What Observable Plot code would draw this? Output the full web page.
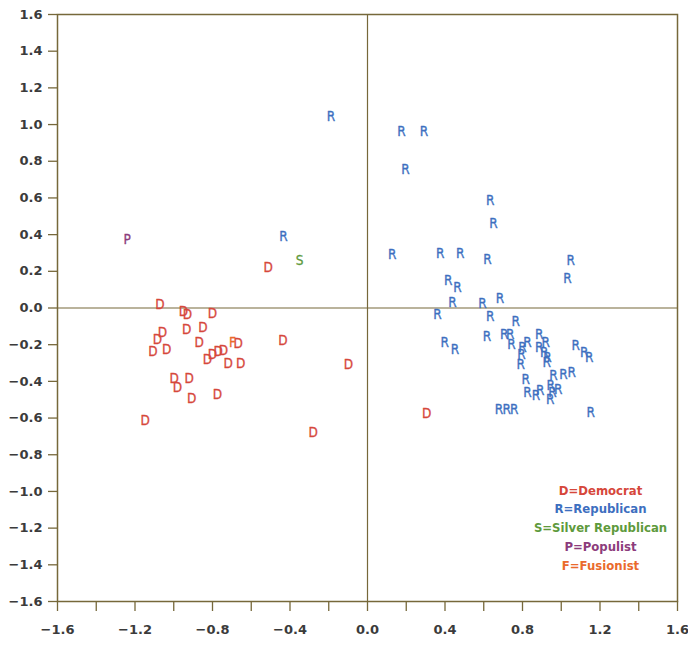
<!DOCTYPE html>
<html>
<head>
<meta charset="utf-8">
<script src="https://cdn.jsdelivr.net/npm/d3@7"></script>
<script src="https://cdn.jsdelivr.net/npm/@observablehq/plot@0.6"></script>
<style>
  html, body { margin: 0; padding: 0; background: #fff; }
  #chart svg { display: block; }
</style>
</head>
<body>
<div id="chart"></div>
<script>
// Party letters, legend labels and colours
const parties = ["D", "R", "S", "P", "F"];
const legendLabels = ["D=Democrat", "R=Republican", "S=Silver Republican", "P=Populist", "F=Fusionist"];
const partyColors = ["#d6473b", "#3d6fbf", "#5e9a3c", "#8c3c7c", "#ea6a2c"];

// Coordinates (dimension 1 = x, dimension 2 = y)
const demX = [-1.072, -0.95, -0.929, -0.8, -1.058, -1.084, -1.107, -1.036, -0.933, -0.849, -0.869, -0.826, -0.8, -0.771, -0.743, -0.668, -0.719, -0.654, -0.998, -0.981, -0.921, -0.907, -0.774, -1.148, -0.436, -0.098, -0.281, -0.513, 0.305];
const demY = [0.02, -0.02, -0.035, -0.031, -0.135, -0.171, -0.238, -0.229, -0.116, -0.107, -0.189, -0.28, -0.253, -0.24, -0.231, -0.195, -0.304, -0.304, -0.384, -0.435, -0.384, -0.495, -0.475, -0.613, -0.176, -0.311, -0.68, 0.22, -0.575];

const repX = [-0.189, 0.175, 0.292, 0.196, 0.633, 0.65, 0.127, 0.375, 0.478, 0.619, 1.049, 1.032, 0.416, 0.464, 0.439, 0.594, 0.684, 0.361, 0.633, 0.765, 0.616, 0.399, 0.451, 0.705, 0.736, 0.743, 0.826, 0.8, 0.795, 0.791, 0.886, 0.886, 0.92, 0.912, 0.929, 0.925, 1.075, 1.118, 1.144, 0.817, 0.96, 1.011, 1.054, 0.826, 0.869, 0.891, 0.946, 0.984, 0.955, 0.943, 0.679, 0.719, 0.757, 1.152, -0.434];
const repY = [1.042, 0.962, 0.962, 0.755, 0.584, 0.46, 0.293, 0.296, 0.296, 0.266, 0.26, 0.162, 0.147, 0.111, 0.029, 0.024, 0.053, -0.038, -0.049, -0.075, -0.158, -0.189, -0.229, -0.144, -0.147, -0.198, -0.189, -0.216, -0.253, -0.307, -0.144, -0.216, -0.189, -0.244, -0.271, -0.298, -0.207, -0.244, -0.271, -0.389, -0.371, -0.362, -0.353, -0.462, -0.48, -0.449, -0.426, -0.444, -0.462, -0.498, -0.553, -0.553, -0.553, -0.571, 0.39];

const silverX = [-0.35];
const silverY = [0.26];
const popX = [-1.24];
const popY = [0.37];
const fusX = [-0.697];
const fusY = [-0.189];

const xTicks = [-1.6, -1.4, -1.2, -1.0, -0.8, -0.6, -0.4, -0.2, 0.0, 0.2, 0.4, 0.6, 0.8, 1.0, 1.2, 1.4, 1.6];
const yTicks = [-1.6, -1.4, -1.2, -1.0, -0.8, -0.6, -0.4, -0.2, 0.0, 0.2, 0.4, 0.6, 0.8, 1.0, 1.2, 1.4, 1.6];

// Build table
const points = [];
function addParty(p, xs, ys) { xs.forEach((x, i) => points.push({party: p, x, y: ys[i]})); }
addParty("D", demX, demY);
addParty("R", repX, repY);
addParty("S", silverX, silverY);
addParty("P", popX, popY);
addParty("F", fusX, fusY);

const axisColor = "#76683a";
const labelColor = "#3b3b3b";
const fmt = d => d.toFixed(1).replace("-", "\u2212");

const legendMarks = legendLabels.map((lab, i) =>
  Plot.text([lab], {
    text: d => d,
    frameAnchor: "bottom-right",
    textAnchor: "middle",
    dx: -77,
    dy: -107 + 18.8 * i,
    fill: partyColors[i],
    fontWeight: "bold",
    fontSize: 13,
    fontFamily: "DejaVu Sans Condensed, DejaVu Sans, sans-serif"
  })
);

const chart = Plot.plot({
  width: 688,
  height: 645,
  marginLeft: 57,
  marginRight: 11,
  marginTop: 14,
  marginBottom: 44,
  style: {fontFamily: "DejaVu Sans, sans-serif", background: "#fff"},
  x: {domain: [-1.6, 1.6]},
  y: {domain: [-1.6, 1.6]},
  color: {domain: parties, range: partyColors},
  marks: [
    Plot.ruleX([0], {stroke: axisColor, strokeWidth: 1.2}),
    Plot.ruleY([0], {stroke: axisColor, strokeWidth: 1.2}),
    Plot.axisX({
      ticks: xTicks,
      tickSize: 10,
      tickPadding: 13,
      tickFormat: d => (Math.round(d * 10) % 4 === 0 ? fmt(d) : ""),
      stroke: axisColor,
      strokeWidth: 1.3,
      fill: labelColor,
      fontWeight: "bold",
      fontSize: 13,
      label: null
    }),
    Plot.axisY({
      ticks: yTicks,
      tickSize: 9,
      tickPadding: 6,
      tickFormat: fmt,
      stroke: axisColor,
      strokeWidth: 1.3,
      fill: labelColor,
      fontWeight: "bold",
      fontSize: 13,
      label: null
    }),
    Plot.frame({stroke: axisColor, strokeWidth: 1.5}),
    Plot.text(points, {
      x: "x",
      y: "y",
      text: "party",
      fill: "party",
      stroke: "party",
      strokeWidth: 0.3,
      fontSize: 13.5,
      fontFamily: "DejaVu Sans Condensed, DejaVu Sans, sans-serif"
    }),
    ...legendMarks
  ]
});

document.getElementById("chart").appendChild(chart);
</script>
</body>
</html>
